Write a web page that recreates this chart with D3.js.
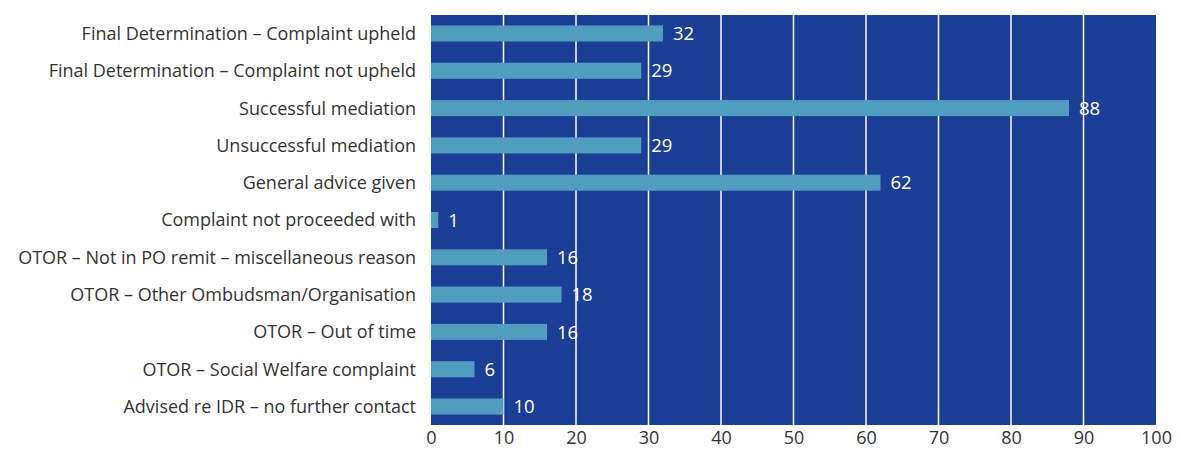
<!DOCTYPE html>
<html>
<head>
<meta charset="utf-8">
<script src="https://cdn.jsdelivr.net/npm/d3@7"></script>
<style>
  body { margin: 0; background: #fff; }
  svg text { font-family: "Open Sans", Lato, sans-serif; }
</style>
</head>
<body>
<div id="container"></div>
<script>
const categories = [
  'Final Determination – Complaint upheld',
  'Final Determination – Complaint not upheld',
  'Successful mediation',
  'Unsuccessful mediation',
  'General advice given',
  'Complaint not proceeded with',
  'OTOR – Not in PO remit – miscellaneous reason',
  'OTOR – Other Ombudsman/Organisation',
  'OTOR – Out of time',
  'OTOR – Social Welfare complaint',
  'Advised re IDR – no further contact'
];
const values = [32, 29, 88, 29, 62, 1, 16, 18, 16, 6, 10];
const xTicks = [0, 10, 20, 30, 40, 50, 60, 70, 80, 90, 100];

const width = 1181;
const height = 450;
const margin = { top: 15, right: 25, bottom: 25, left: 431 };

const svg = d3.select('#container')
  .append('svg')
  .attr('width', width)
  .attr('height', height);

const x = d3.scaleLinear()
  .domain([0, 100])
  .range([margin.left, width - margin.right]);

const y = d3.scaleBand()
  .domain(categories)
  .range([margin.top, height - margin.bottom])
  .paddingInner(0.57)
  .paddingOuter(0.28);

// plot background
svg.append('rect')
  .attr('x', x(0))
  .attr('y', margin.top)
  .attr('width', x(100) - x(0))
  .attr('height', height - margin.bottom - margin.top)
  .attr('fill', '#1b3f96');

// grid lines
svg.append('g')
  .selectAll('line')
  .data(xTicks.slice(1, -1))
  .join('line')
  .attr('x1', d => x(d))
  .attr('x2', d => x(d))
  .attr('y1', margin.top)
  .attr('y2', height - margin.bottom)
  .attr('stroke', '#fff')
  .attr('stroke-width', 1.5);

// bars
svg.append('g')
  .selectAll('rect')
  .data(values)
  .join('rect')
  .attr('x', x(0))
  .attr('y', (d, i) => y(categories[i]))
  .attr('width', d => x(d) - x(0))
  .attr('height', y.bandwidth())
  .attr('fill', '#519dbf');

// value labels
svg.append('g')
  .selectAll('text')
  .data(values)
  .join('text')
  .attr('x', d => x(d) + 10)
  .attr('y', (d, i) => y(categories[i]) + y.bandwidth() / 2)
  .attr('dy', '0.36em')
  .attr('font-size', 18.5)
  .attr('fill', '#fff')
  .text(d => d);

// category labels
svg.append('g')
  .selectAll('text')
  .data(categories)
  .join('text')
  .attr('x', margin.left - 15)
  .attr('y', d => y(d) + y.bandwidth() / 2)
  .attr('dy', '0.36em')
  .attr('text-anchor', 'end')
  .attr('font-size', 18)
  .attr('fill', '#333')
  .text(d => d);

// x axis
const xAxis = svg.append('g')
  .attr('transform', `translate(0,${height - margin.bottom})`)
  .call(d3.axisBottom(x).tickValues(xTicks).tickSize(0).tickPadding(6));
xAxis.select('.domain').remove();
xAxis.selectAll('text')
  .attr('font-size', 18)
  .attr('fill', '#333')
  .style('font-family', '"Open Sans", Lato, sans-serif');
</script>
</body>
</html>
